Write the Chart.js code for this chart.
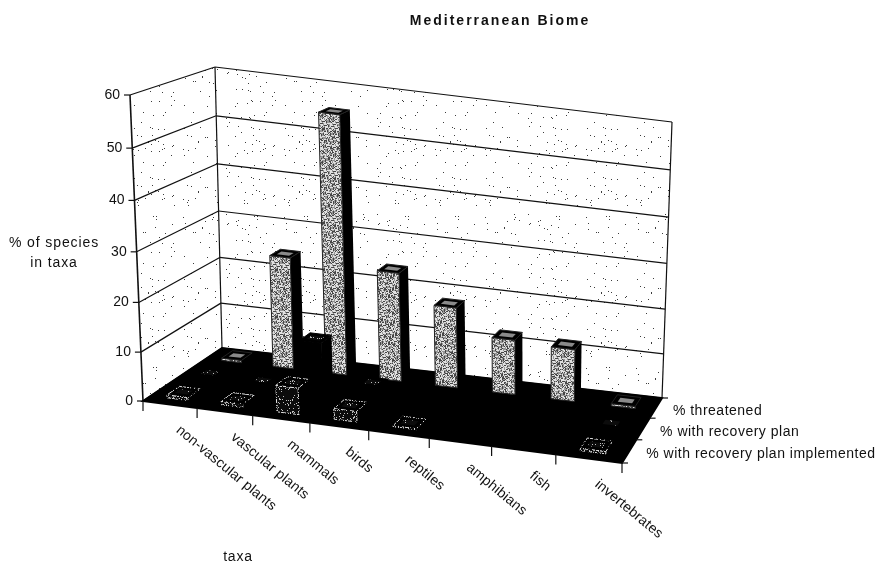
<!DOCTYPE html>
<html>
<head>
<meta charset="utf-8">
<title>Mediterranean Biome</title>
<style>
  html, body { margin: 0; padding: 0; background: #fff; }
  #wrap { position: relative; width: 880px; height: 567px; }
</style>
</head>
<body>
<div id="wrap"><canvas id="biomeChart" width="880" height="567"></canvas></div>
<script src="https://cdn.jsdelivr.net/npm/chart.js@4"></script>
<script>
// values
const categories = ["non-vascular plants", "vascular plants", "mammals", "birds", "reptiles", "amphibians", "fish", "invertebrates"];
const threatened = [0.5, 24, 55, 23.5, 17.5, 12, 11.5, 0.5];
const recoveryPlan = [0.8, 0.6, 11, 3, 0, 0, 0, 0.5];
const planImplemented = [0.6, 0.7, 5.5, 2.2, 0.2, 0, 0, 0.5];
const seriesLabels = ["% threatened", "% with recovery plan", "% with recovery plan implemented"];
const valueTicks = [0, 10, 20, 30, 40, 50, 60];

const FONT = '"Liberation Sans", Arial, sans-serif';

// corners of the 3D box in the photo: floor and the plane at the top of the value axis
const floorQuad = [[143, 401], [622, 463], [662, 398], [222, 348]];
const topQuad = [[130, 95], [634, 163], [672, 122], [215, 67]];
const rowDepth = [0.86, 0.5, 1 / 6]; // back to front
const barWidth = 0.39; // share of a category
const barDepth = 0.15;

// unit square -> quad (projective map)
function quadMap(q) {
    const [p0, p1, p2, p3] = q;
    const dx1 = p1[0] - p2[0], dx2 = p3[0] - p2[0], sx = p0[0] - p1[0] + p2[0] - p3[0];
    const dy1 = p1[1] - p2[1], dy2 = p3[1] - p2[1], sy = p0[1] - p1[1] + p2[1] - p3[1];
    const det = dx1 * dy2 - dx2 * dy1;
    const g = (sx * dy2 - dx2 * sy) / det;
    const h = (dx1 * sy - sx * dy1) / det;
    const a = p1[0] - p0[0] + g * p1[0], b = p3[0] - p0[0] + h * p3[0];
    const d = p1[1] - p0[1] + g * p1[1], e = p3[1] - p0[1] + h * p3[1];
    return (u, v) => {
        const w = g * u + h * v + 1;
        return [(a * u + b * v + p0[0]) / w, (d * u + e * v + p0[1]) / w];
    };
}
const floorMap = quadMap(floorQuad);
const topMap = quadMap(topQuad);

// u along taxa, v into the picture, w up the value axis, all 0..1
function project(u, v, w) {
    const a = floorMap(u, v), b = topMap(u, v);
    const k = w * (1 - 0.05 * (1 - w)); // gridlines spread a little towards the top
    return [a[0] + (b[0] - a[0]) * k, a[1] + (b[1] - a[1]) * k];
}

// speckled fills, like the scanned print
function makePattern(size, paint) {
    const c = document.createElement("canvas");
    c.width = c.height = size;
    const g = c.getContext("2d");
    const img = g.createImageData(size, size);
    for (let y = 0; y < size; y++) {
        for (let x = 0; x < size; x++) {
            const n = (x * x * 37 + y * y * 61 + x * y * 13 + x * 7 + y * 3) % 101;
            const v = paint(n);
            const i = (y * size + x) * 4;
            img.data[i] = img.data[i + 1] = img.data[i + 2] = v;
            img.data[i + 3] = 255;
        }
    }
    g.putImageData(img, 0, 0);
    return document.createElement("canvas").getContext("2d").createPattern(c, "repeat");
}
const stipple = makePattern(47, n => (n < 30 ? 70 : n < 62 ? 150 : 225));
const wallDots = makePattern(151, n => (n < 1 ? 60 : 255));
const darkSpeck = makePattern(31, n => (n < 10 ? 190 : 12));
const brokenEdge = makePattern(37, n => (n < 55 ? 225 : 10));

function polygon(ctx, pts, fill, stroke, lineWidth) {
    ctx.beginPath();
    pts.forEach((p, i) => (i ? ctx.lineTo(p[0], p[1]) : ctx.moveTo(p[0], p[1])));
    ctx.closePath();
    if (fill) {
        ctx.fillStyle = fill;
        ctx.fill();
    }
    if (stroke) {
        ctx.strokeStyle = stroke;
        ctx.lineWidth = lineWidth || 1;
        ctx.stroke();
    }
}

// bar controller that draws each value as a box in the projected room
class Bar3DController extends Chart.BarController {
    draw() {
        const meta = this._cachedMeta;
        const ctx = this.chart.ctx;
        const area = this.chart.chartArea;
        const ds = this.getDataset();
        const depth = ds.rowDepth;
        const halfW = barWidth / categories.length / 2;
        meta.data.forEach((el, i) => {
            const value = meta._parsed[i].y;
            if (!value) return; // nothing to see on the black floor
            const u = (meta.xScale.getPixelForValue(i) - area.left) / area.width;
            const w = (area.bottom - meta.yScale.getPixelForValue(value)) / area.height;
            const u0 = u - halfW, u1 = u + halfW;
            const v0 = depth - barDepth / 2, v1 = depth + barDepth / 2;
            // right side, front, top
            polygon(ctx, [project(u1, v0, 0), project(u1, v1, 0), project(u1, v1, w), project(u1, v0, w)], ds.sideColor);
            polygon(ctx, [project(u0, v0, 0), project(u1, v0, 0), project(u1, v0, w), project(u0, v0, w)], ds.backgroundColor, ds.borderColor);
            polygon(ctx, [project(u0, v0, w), project(u1, v0, w), project(u1, v1, w), project(u0, v1, w)], "#000", ds.borderColor);
            const iu = halfW * 0.6, iv = barDepth * 0.22;
            polygon(ctx, [project(u - iu, depth - iv, w), project(u + iu, depth - iv, w), project(u + iu, depth + iv, w), project(u - iu, depth + iv, w)], ds.capColor);
        });
    }
}
Bar3DController.id = "bar3d";
Bar3DController.defaults = Chart.BarController.defaults;
Chart.register(Bar3DController);

function spacedText(ctx, text, x, y, spacing) {
    ctx.letterSpacing = spacing + "px";
    ctx.fillText(text, x, y);
    ctx.letterSpacing = "0px";
}

// walls, floor, gridlines and tick marks, from the y scale ticks
const roomPlugin = {
    id: "room",
    beforeDatasetsDraw(chart) {
        const ctx = chart.ctx, y = chart.scales.y, area = chart.chartArea;
        ctx.save();
        polygon(ctx, [project(0, 0, 0), project(0, 1, 0), project(0, 1, 1), project(0, 0, 1)], wallDots);
        polygon(ctx, [project(0, 1, 0), project(1, 1, 0), project(1, 1, 1), project(0, 1, 1)], wallDots);
        const line = (a, b, width) => {
            ctx.beginPath();
            ctx.moveTo(a[0], a[1]);
            ctx.lineTo(b[0], b[1]);
            ctx.strokeStyle = "#111";
            ctx.lineWidth = width || 1.2;
            ctx.stroke();
        };
        y.ticks.forEach(t => {
            const w = (area.bottom - y.getPixelForValue(t.value)) / area.height;
            line(project(0, 0, w), project(0, 1, w));
            line(project(0, 1, w), project(1, 1, w));
            const p = project(0, 0, w);
            line([p[0] - 6, p[1]], p);
        });
        line(project(0, 0, 0), project(0, 0, 1), 1.6);
        line(project(0, 1, 0), project(0, 1, 1));
        line(project(1, 1, 0), project(1, 1, 1));
        polygon(ctx, [project(0, 0, 0), project(1, 0, 0), project(1, 1, 0), project(0, 1, 0)], "#000", "#000", 2);
        // ticks below the front edge and right of the depth edge
        for (let i = 0; i <= categories.length; i++) {
            const p = project(i / categories.length, 0, 0);
            line(p, [p[0], p[1] + 10], 1.2);
        }
        for (let i = 0; i <= seriesLabels.length; i++) {
            const p = project(1, i / seriesLabels.length, 0);
            line(p, [p[0] + 6, p[1]], 1.2);
        }
        ctx.restore();
    },
    afterDatasetsDraw(chart) {
        const ctx = chart.ctx, y = chart.scales.y, area = chart.chartArea;
        ctx.save();
        ctx.fillStyle = "#111";
        // value axis labels
        ctx.font = "14px " + FONT;
        ctx.textAlign = "right";
        ctx.textBaseline = "middle";
        y.ticks.forEach(t => {
            const p = project(0, 0, (area.bottom - y.getPixelForValue(t.value)) / area.height);
            ctx.fillText(String(t.value), p[0] - 10, p[1]);
        });
        // taxa labels, slanted
        ctx.textAlign = "left";
        categories.forEach((name, i) => {
            const p = project((chart.scales.x.getPixelForValue(i) - area.left) / area.width, 0, 0);
            ctx.save();
            ctx.translate(p[0] + 8, p[1] + 24);
            ctx.rotate(39.5 * Math.PI / 180);
            spacedText(ctx, name, 0, 0, 0.2);
            ctx.restore();
        });
        // series labels along the depth edge
        seriesLabels.forEach((name, i) => {
            const p = project(1, 1 - (i + 0.5) / seriesLabels.length, 0);
            spacedText(ctx, name, p[0] + 17, p[1] + 3, 0.5);
        });
        // titles
        ctx.textAlign = "center";
        spacedText(ctx, "% of species", 54, 243, 0.9);
        spacedText(ctx, "in taxa", 54, 263, 0.9);
        spacedText(ctx, "taxa", 238, 557, 0.8);
        ctx.font = "bold 14px " + FONT;
        spacedText(ctx, "Mediterranean Biome", 500, 21, 2);
        ctx.restore();
    }
};

new Chart(document.getElementById("biomeChart").getContext("2d"), {
    data: {
        labels: categories,
        datasets: [
            { type: "bar3d", label: seriesLabels[2], data: planImplemented, rowDepth: rowDepth[2], backgroundColor: darkSpeck, borderColor: brokenEdge, sideColor: "#000", capColor: darkSpeck, clip: false },
            { type: "bar3d", label: seriesLabels[1], data: recoveryPlan, rowDepth: rowDepth[1], backgroundColor: "#000", borderColor: "#000", sideColor: "#000", capColor: darkSpeck, clip: false },
            { type: "bar3d", label: seriesLabels[0], data: threatened, rowDepth: rowDepth[0], backgroundColor: stipple, borderColor: "#222", sideColor: "#000", capColor: "#8a8a8a", clip: false }
        ]
    },
    options: {
        responsive: false,
        animation: false,
        // chart area spans the value axis and the front edge of the floor
        layout: { padding: { left: 130, right: 880 - 622, top: 95, bottom: 567 - 401 } },
        plugins: { legend: { display: false }, tooltip: { enabled: false } },
        scales: {
            x: { type: "category", display: false },
            y: {
                type: "linear",
                display: false,
                min: 0,
                max: 60,
                afterBuildTicks(scale) {
                    scale.ticks = valueTicks.map(v => ({ value: v }));
                }
            }
        }
    },
    plugins: [roomPlugin]
});
</script>
</body>
</html>
